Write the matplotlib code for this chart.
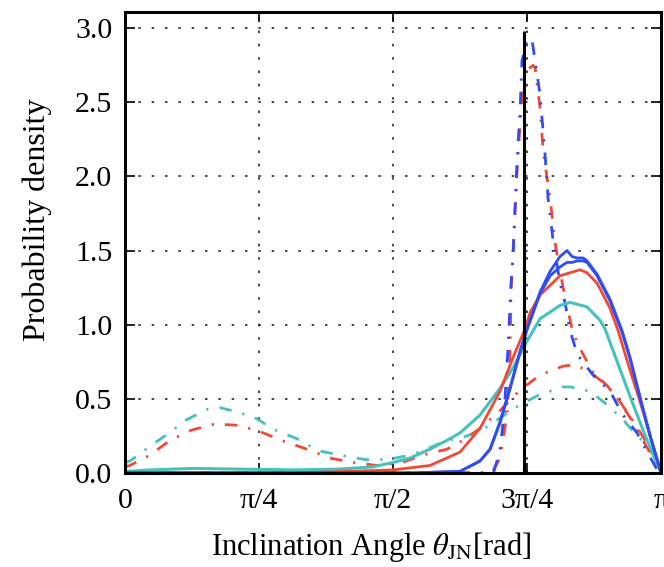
import numpy as np
import matplotlib
matplotlib.use('Agg')
import matplotlib.pyplot as plt

plt.rcParams['font.family'] = ['Liberation Serif', 'DejaVu Serif']
plt.rcParams['mathtext.fontset'] = 'stix'

# ── data (theta in rad, probability density) ──
theta_blue_a = [0.0, 1.7, 1.964, 2.081, 2.140, 2.198, 2.257, 2.316, 2.357, 2.433, 2.492, 2.55,
                2.591, 2.620, 2.650, 2.685, 2.708, 2.767, 2.843, 2.913, 2.96, 3.025, 3.08, 3.142]
pdf_blue_a = [0.0, 0.0, 0.01, 0.08, 0.16, 0.34, 0.57, 0.82, 0.97, 1.22, 1.36, 1.46,
              1.50, 1.46, 1.45, 1.45, 1.43, 1.34, 1.17, 0.96, 0.78, 0.48, 0.24, 0.0]

theta_blue_b = [0.0, 1.7, 1.964, 2.081, 2.140, 2.198, 2.257, 2.316, 2.357, 2.433, 2.492, 2.55,
                2.591, 2.620, 2.650, 2.685, 2.708, 2.767, 2.843, 2.913, 2.96, 3.025, 3.08, 3.142]
pdf_blue_b = [0.0, 0.0, 0.01, 0.08, 0.16, 0.34, 0.57, 0.82, 0.97, 1.21, 1.33, 1.39,
              1.42, 1.42, 1.43, 1.43, 1.42, 1.33, 1.16, 0.95, 0.77, 0.48, 0.24, 0.0]

theta_red = [0.0, 1.0, 1.3, 1.571, 1.788, 1.964, 2.081, 2.198, 2.275, 2.345, 2.374, 2.433,
             2.55, 2.667, 2.708, 2.767, 2.843, 2.890, 2.95, 3.019, 3.08, 3.142]
pdf_red = [0.0, 0.0, 0.01, 0.02, 0.05, 0.14, 0.30, 0.55, 0.78, 0.97, 1.08, 1.20,
           1.33, 1.37, 1.35, 1.28, 1.11, 0.96, 0.73, 0.48, 0.24, 0.0]

theta_cyan = [0.0, 0.15, 0.4, 0.7, 1.0, 1.25, 1.45, 1.571, 1.671, 1.788, 1.888, 1.964, 2.081,
              2.198, 2.275, 2.357, 2.433, 2.55, 2.609, 2.708, 2.784, 2.814, 2.901, 2.972, 3.06, 3.142]
pdf_cyan = [0.01, 0.02, 0.03, 0.025, 0.02, 0.025, 0.04, 0.07, 0.10, 0.16, 0.22, 0.27, 0.39,
            0.57, 0.71, 0.89, 1.04, 1.13, 1.15, 1.12, 1.03, 0.97, 0.70, 0.48, 0.22, 0.0]

theta_blue_peak = [0.0, 2.16, 2.198, 2.222, 2.245, 2.263, 2.275, 2.286, 2.298, 2.316, 2.327, 2.357,
                   2.386, 2.433, 2.462, 2.480, 2.509, 2.550, 2.579, 2.609, 2.650, 2.743, 2.843,
                   2.919, 3.001, 3.060, 3.125, 3.142]
pdf_blue_peak = [0.0, 0.0, 0.15, 0.40, 0.84, 1.28, 1.46, 1.78, 2.10, 2.45, 2.78, 2.93,
                 2.92, 2.55, 2.15, 1.85, 1.57, 1.28, 1.15, 0.96, 0.80, 0.66, 0.55,
                 0.39, 0.27, 0.14, 0.01, 0.0]

theta_red_peak = [0.0, 2.15, 2.198, 2.239, 2.257, 2.263, 2.275, 2.298, 2.316, 2.333, 2.36, 2.392,
                  2.404, 2.433, 2.451, 2.492, 2.521, 2.568, 2.626, 2.685, 2.743, 2.825, 2.901,
                  2.978, 3.06, 3.119, 3.142]
pdf_red_peak = [0.0, 0.0, 0.10, 0.39, 0.80, 1.23, 1.50, 2.03, 2.35, 2.62, 2.72, 2.75,
                2.73, 2.46, 2.17, 1.85, 1.55, 1.25, 0.94, 0.80, 0.68, 0.59, 0.48,
                0.34, 0.17, 0.05, 0.0]

theta_red_broad = [0.0, 0.03, 0.148, 0.265, 0.394, 0.528, 0.675, 0.81, 0.939, 1.067, 1.202, 1.337,
                   1.477, 1.624, 1.747, 1.888, 1.981, 2.081, 2.198, 2.316, 2.433, 2.568, 2.638,
                   2.726, 2.825, 2.901, 2.978, 3.06, 3.142]
pdf_red_broad = [0.04, 0.05, 0.12, 0.22, 0.29, 0.33, 0.32, 0.27, 0.21, 0.16, 0.10, 0.07,
                 0.05, 0.07, 0.12, 0.16, 0.22, 0.30, 0.42, 0.56, 0.66, 0.72, 0.73,
                 0.68, 0.59, 0.48, 0.35, 0.20, 0.0]

theta_cyan_broad = [0.0, 0.03, 0.136, 0.247, 0.364, 0.487, 0.558, 0.628, 0.751, 0.88, 1.009, 1.132,
                    1.261, 1.407, 1.542, 1.671, 1.747, 1.888, 1.981, 2.081, 2.198, 2.316, 2.433,
                    2.568, 2.609, 2.726, 2.825, 2.919, 3.007, 3.06, 3.119, 3.142]
pdf_cyan_broad = [0.07, 0.08, 0.17, 0.26, 0.36, 0.43, 0.44, 0.42, 0.38, 0.29, 0.23, 0.15,
                  0.12, 0.09, 0.09, 0.12, 0.15, 0.22, 0.24, 0.28, 0.37, 0.46, 0.53,
                  0.58, 0.58, 0.55, 0.46, 0.36, 0.24, 0.20, 0.07, 0.0]

true_theta = 2.339
xticks = [0, np.pi / 4, np.pi / 2, 3 * np.pi / 4, np.pi]
xticklabels = ['0', 'π/4', 'π/2', '3π/4', 'π']
yticks = [0.0, 0.5, 1.0, 1.5, 2.0, 2.5, 3.0]

blue = '#2f4cf5'
red = '#f04a35'
cyan = '#45c2bd'
dd = (4.5, 4.0, 0.8, 4.0)

fig = plt.figure(figsize=(6.64, 5.67), dpi=100)
ax = fig.add_axes([0.188, 0.166, 0.8075, 0.813])

ax.plot(theta_cyan_broad, pdf_cyan_broad, color=cyan, lw=2, dashes=dd)
ax.plot(theta_red_broad, pdf_red_broad, color=red, lw=2, dashes=dd)
ax.plot(theta_red_peak, pdf_red_peak, color=red, lw=2, dashes=dd)
ax.plot(theta_blue_peak, pdf_blue_peak, color=blue, lw=2, dashes=dd)
ax.plot(theta_cyan, pdf_cyan, color=cyan, lw=2.2)
ax.plot(theta_red, pdf_red, color=red, lw=2.0)
ax.plot(theta_blue_b, pdf_blue_b, color=blue, lw=2.0)
ax.plot(theta_blue_a, pdf_blue_a, color=blue, lw=2.0)

ax.vlines(true_theta, 0, 2.98, color='black', lw=2.2, zorder=5)

ax.set_xlim(0, np.pi)
ax.set_ylim(0, 3.11)
ax.set_xticks(xticks)
ax.set_xticklabels(xticklabels)
ax.set_yticks(yticks)
ax.set_yticklabels([f'{v:.1f}' for v in yticks])

ax.grid(True, color='0.15', lw=1.2, linestyle=(0, (1.5, 6.5)))
ax.tick_params(direction='in', length=7, width=1.2, top=True, right=True,
               labelsize=21.5)
ax.tick_params(axis='x', pad=11)
ax.tick_params(axis='y', pad=9)
for s in ax.spines.values():
    s.set_linewidth(2.2)

ax.set_xlabel(r'Inclination Angle $\theta_{\rm JN}$[rad]', fontsize=22)
ax.set_ylabel('Probability density', fontsize=23)
ax.xaxis.set_label_coords(0.459, -0.125)
ax.yaxis.set_label_coords(-0.136, 0.549)

fig.savefig('out.png', dpi=100)
